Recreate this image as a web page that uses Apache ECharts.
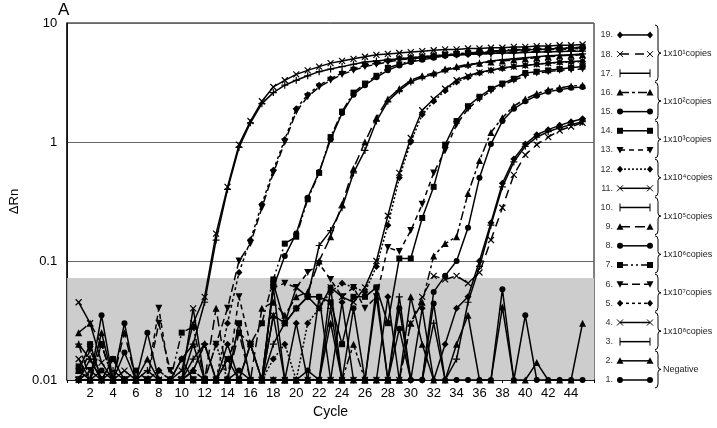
<!DOCTYPE html>
<html><head><meta charset="utf-8">
<script src="https://cdn.jsdelivr.net/npm/echarts@6/dist/echarts.min.js"></script>
<style>html,body{margin:0;padding:0;background:#fff}#c{width:717px;height:428px}</style>
</head><body><div id="c"></div>
<script>
const cycles = [1,2,3,4,5,6,7,8,9,10,11,12,13,14,15,16,17,18,19,20,21,22,23,24,25,26,27,28,29,30,31,32,33,34,35,36,37,38,39,40,41,42,43,44,45];
const xTickLabels = ['2','4','6','8','10','12','14','16','18','20','22','24','26','28','30','32','34','36','38','40','42','44'];
const yTickLabels = ['0.01','0.1','1','10'];
const thresholdTop = 0.072;

// Negative
const s1 = [0.01,0.01,0.035,0.01,0.017,0.01,0.01,0.01,0.01,0.01,0.01,0.01,0.01,0.01,0.01,0.01,0.01,0.06,0.01,0.01,0.01,0.05,0.01,0.01,0.04,0.01,0.01,0.01,0.027,0.01,0.01,0.044,0.01,0.01,0.01,0.01,0.01,0.058,0.01,0.035,0.01,0.01,0.01,0.01,0.01];
const s2 = [0.012,0.01,0.025,0.01,0.01,0.01,0.015,0.01,0.01,0.01,0.02,0.01,0.01,0.01,0.01,0.01,0.01,0.035,0.01,0.01,0.01,0.01,0.03,0.01,0.01,0.01,0.05,0.01,0.01,0.05,0.02,0.01,0.01,0.02,0.035,0.01,0.01,0.041,0.01,0.01,0.014,0.01,0.01,0.01,0.03];
// 1x10^8
const s3 = [0.02,0.015,0.01,0.012,0.01,0.01,0.012,0.01,0.01,0.015,0.02,0.045,0.15,0.4,0.9,1.45,2.1,2.6,3.0,3.3,3.6,3.9,4.1,4.3,4.5,4.7,4.8,4.9,5.0,5.1,5.2,5.3,5.35,5.4,5.45,5.5,5.55,5.6,5.6,5.65,5.7,5.7,5.75,5.8,5.8];
const s4 = [0.045,0.03,0.014,0.01,0.012,0.01,0.01,0.01,0.01,0.012,0.03,0.05,0.17,0.42,0.95,1.5,2.2,2.9,3.3,3.7,4.0,4.3,4.6,4.8,5.0,5.2,5.4,5.5,5.6,5.7,5.8,5.9,6.0,6.0,6.1,6.1,6.2,6.2,6.3,6.3,6.4,6.4,6.5,6.5,6.6];
// 1x10^7
const s5 = [0.01,0.02,0.01,0.015,0.01,0.01,0.01,0.012,0.01,0.01,0.012,0.02,0.01,0.03,0.08,0.15,0.3,0.58,1.05,1.9,2.5,3.0,3.4,3.8,4.1,4.4,4.6,4.8,5.0,5.1,5.2,5.3,5.4,5.5,5.6,5.65,5.7,5.8,5.85,5.9,5.95,6.0,6.0,6.05,6.1];
const s6 = [0.01,0.012,0.01,0.01,0.01,0.01,0.01,0.03,0.012,0.01,0.01,0.01,0.02,0.04,0.1,0.14,0.28,0.55,1.0,1.8,2.4,2.9,3.3,3.7,4.0,4.3,4.5,4.7,4.9,5.0,5.1,5.2,5.3,5.4,5.45,5.5,5.55,5.6,5.65,5.7,5.75,5.8,5.8,5.85,5.9];
// 1x10^6
const s7 = [0.013,0.01,0.02,0.01,0.01,0.012,0.01,0.01,0.01,0.025,0.028,0.01,0.01,0.015,0.025,0.02,0.03,0.07,0.14,0.16,0.33,0.55,1.1,1.8,2.6,3.1,3.6,4.2,4.5,4.8,5.0,5.2,5.4,5.5,5.6,5.7,5.8,5.9,6.0,6.0,6.1,6.1,6.2,6.2,6.3];
const s8 = [0.01,0.01,0.01,0.01,0.03,0.01,0.01,0.01,0.01,0.015,0.01,0.01,0.01,0.01,0.012,0.01,0.01,0.06,0.11,0.17,0.34,0.56,1.05,1.75,2.5,3.0,3.5,4.0,4.4,4.7,4.9,5.1,5.3,5.4,5.5,5.6,5.7,5.8,5.9,5.95,6.0,6.05,6.1,6.15,6.2];
// 1x10^5
const s9 = [0.025,0.03,0.02,0.01,0.025,0.01,0.01,0.01,0.01,0.01,0.012,0.01,0.04,0.01,0.025,0.01,0.04,0.045,0.035,0.05,0.055,0.1,0.16,0.3,0.6,1.0,1.6,2.3,2.8,3.3,3.6,3.8,4.1,4.3,4.5,4.6,4.7,4.8,4.9,5.0,5.1,5.2,5.3,5.35,5.4];
const s10 = [0.01,0.015,0.01,0.01,0.01,0.01,0.01,0.01,0.01,0.01,0.015,0.02,0.01,0.01,0.01,0.02,0.01,0.02,0.03,0.04,0.05,0.135,0.18,0.28,0.55,0.85,1.5,2.2,2.7,3.2,3.5,3.7,4.0,4.2,4.4,4.6,4.8,4.9,5.0,5.1,5.2,5.3,5.35,5.4,5.5];
// 1x10^4
const s11 = [0.015,0.01,0.01,0.01,0.01,0.01,0.01,0.01,0.01,0.01,0.04,0.01,0.01,0.015,0.01,0.02,0.01,0.035,0.03,0.06,0.05,0.04,0.06,0.05,0.045,0.06,0.1,0.24,0.55,1.08,1.85,2.3,2.8,3.3,3.6,3.85,4.0,4.2,4.3,4.4,4.5,4.6,4.7,4.75,4.8];
const s12 = [0.01,0.01,0.02,0.01,0.01,0.01,0.01,0.012,0.01,0.01,0.01,0.01,0.02,0.01,0.01,0.01,0.01,0.015,0.02,0.01,0.03,0.04,0.055,0.065,0.06,0.055,0.09,0.2,0.5,1.0,1.7,2.2,2.7,3.2,3.5,3.8,4.0,4.15,4.3,4.4,4.5,4.6,4.65,4.7,4.75];
// 1x10^3
const s13 = [0.01,0.018,0.01,0.01,0.01,0.01,0.01,0.04,0.01,0.01,0.01,0.01,0.01,0.01,0.05,0.02,0.01,0.06,0.065,0.06,0.08,0.095,0.07,0.05,0.06,0.04,0.05,0.13,0.12,0.18,0.3,0.55,0.85,1.4,1.9,2.3,2.7,3.0,3.3,3.6,3.8,3.9,4.0,4.05,4.1];
const s14 = [0.012,0.02,0.01,0.015,0.01,0.01,0.01,0.01,0.01,0.01,0.01,0.01,0.01,0.01,0.03,0.01,0.01,0.065,0.03,0.04,0.05,0.05,0.045,0.02,0.05,0.05,0.06,0.03,0.105,0.105,0.23,0.42,0.95,1.5,2.0,2.4,2.8,3.1,3.4,3.8,3.9,4.0,4.1,4.2,4.3];
// 1x10^2
const s15 = [0.01,0.01,0.012,0.01,0.01,0.01,0.025,0.01,0.01,0.01,0.01,0.01,0.01,0.01,0.01,0.01,0.01,0.01,0.01,0.01,0.012,0.01,0.06,0.01,0.01,0.01,0.06,0.01,0.04,0.01,0.01,0.055,0.075,0.1,0.19,0.5,0.96,1.5,1.9,2.2,2.45,2.65,2.75,2.85,2.9];
const s16 = [0.02,0.01,0.01,0.01,0.01,0.01,0.01,0.01,0.01,0.01,0.01,0.01,0.01,0.01,0.01,0.01,0.01,0.01,0.01,0.01,0.01,0.01,0.01,0.01,0.02,0.01,0.01,0.01,0.01,0.03,0.045,0.11,0.14,0.16,0.37,0.7,1.2,1.6,2.0,2.3,2.55,2.75,2.85,2.95,3.0];
// 1x10^1
const s17 = [0.01,0.01,0.01,0.01,0.01,0.01,0.01,0.01,0.01,0.01,0.012,0.02,0.01,0.01,0.01,0.01,0.01,0.01,0.01,0.01,0.01,0.01,0.04,0.01,0.01,0.01,0.01,0.01,0.05,0.01,0.01,0.03,0.01,0.015,0.045,0.09,0.2,0.42,0.68,0.92,1.1,1.22,1.32,1.4,1.48];
const s18 = [0.01,0.012,0.01,0.01,0.01,0.01,0.01,0.01,0.01,0.01,0.01,0.01,0.01,0.01,0.01,0.01,0.01,0.01,0.01,0.01,0.01,0.01,0.01,0.01,0.01,0.01,0.01,0.01,0.01,0.03,0.05,0.075,0.07,0.075,0.065,0.08,0.15,0.28,0.53,0.78,0.95,1.1,1.25,1.35,1.45];
const s19 = [0.01,0.01,0.01,0.01,0.01,0.01,0.01,0.01,0.01,0.01,0.01,0.01,0.01,0.02,0.01,0.01,0.01,0.01,0.01,0.03,0.01,0.01,0.01,0.045,0.01,0.01,0.01,0.05,0.01,0.01,0.04,0.01,0.02,0.04,0.05,0.1,0.21,0.45,0.72,0.96,1.15,1.27,1.38,1.48,1.57];

const seriesValues = [s1,s2,s3,s4,s5,s6,s7,s8,s9,s10,s11,s12,s13,s14,s15,s16,s17,s18,s19];
const seriesLabels = ['1.','2.','3.','4.','5.','6.','7.','8.','9.','10.','11.','12.','13.','14.','15.','16.','17.','18.','19.'];
const groupLabels = ['Negative','1x10\u2078copies','1x10\u2077copies','1x10\u2076copies','1x10\u2075copies','1x10\u2074copies','1x10\u00B3copies','1x10\u00B2copies','1x10\u00B9copies'];
const groupRows = [[1,2],[3,4],[5,6],[7,8],[9,10],[11,12],[13,14],[15,16],[17,18,19]];

// styles (not data)
const styles = [
 {m:'circle', d:'solid'}, {m:'triangle', d:'solid'}, {m:'plus', d:'solid'}, {m:'cross', d:'solid'},
 {m:'diamond', d:[3,3]}, {m:'tridown', d:[8,4]}, {m:'rect', d:[8,3,2,3,2,3]}, {m:'circle', d:'solid'},
 {m:'triangle', d:[10,5]}, {m:'plus', d:'solid'}, {m:'cross', d:'solid'}, {m:'diamond', d:[2,2]},
 {m:'tridown', d:[5,4]}, {m:'rect', d:'solid'}, {m:'circle', d:'solid'}, {m:'triangle', d:[9,3,3,3]},
 {m:'plus', d:'solid'}, {m:'cross', d:[9,6]}, {m:'diamond', d:'solid'}
];
const symMap = {
 circle:{s:'circle', size:6, stroke:false},
 triangle:{s:'triangle', size:7, stroke:false},
 rect:{s:'rect', size:6, stroke:false},
 diamond:{s:'diamond', size:7, stroke:false},
 tridown:{s:'path://M0,0L10,0L5,9Z', size:7, stroke:false},
 cross:{s:'path://M0,0L10,10M10,0L0,10', size:6, stroke:true},
 plus:{s:'path://M5,0L5,10M0,5L10,5', size:7, stroke:true}
};

const FONT = 'Liberation Sans, Arial, sans-serif';
const series = [];
series.push({
  type:'line', data:[[0,0.01]], symbol:'none', lineStyle:{opacity:0}, silent:true, z:1,
  markArea:{silent:true, itemStyle:{color:'#cdcdcd'}, data:[[{yAxis:0.01},{yAxis:thresholdTop}]]}
});
seriesValues.forEach((vals,i)=>{
  const st = styles[i], sm = symMap[st.m];
  series.push({
    name: seriesLabels[i], type:'line', z:3,
    data: cycles.map((c,k)=>[c, vals[k]]),
    symbol: sm.s, symbolSize: sm.size, showAllSymbol:true,
    lineStyle:{color:'#000', width:1.5, type: st.d},
    itemStyle:{color:'#000', borderColor:'#000', borderWidth: sm.stroke?1.2:0}
  });
});

// legend graphics
const rowY = i => 380 - (i-1)*19.17;
const gfx = [];
const stroke1 = {stroke:'#000', lineWidth:1};
function marker(type, cx, cy){
  const f = {fill:'#000'};
  switch(type){
    case 'circle': return [{type:'circle', shape:{cx, cy, r:3}, style:f}];
    case 'rect': return [{type:'rect', shape:{x:cx-3, y:cy-3, width:6, height:6}, style:f}];
    case 'triangle': return [{type:'polygon', shape:{points:[[cx,cy-3.5],[cx+3.5,cy+3],[cx-3.5,cy+3]]}, style:f}];
    case 'tridown': return [{type:'polygon', shape:{points:[[cx-3.5,cy-3],[cx+3.5,cy-3],[cx,cy+3.5]]}, style:f}];
    case 'diamond': return [{type:'polygon', shape:{points:[[cx,cy-3.5],[cx+3,cy],[cx,cy+3.5],[cx-3,cy]]}, style:f}];
    case 'cross': return [
      {type:'line', shape:{x1:cx-3,y1:cy-3,x2:cx+3,y2:cy+3}, style:stroke1},
      {type:'line', shape:{x1:cx+3,y1:cy-3,x2:cx-3,y2:cy+3}, style:stroke1}];
    case 'plus': return [{type:'line', shape:{x1:cx,y1:cy-4,x2:cx,y2:cy+4}, style:stroke1}];
  }
  return [];
}
seriesLabels.forEach((lab,i)=>{
  const y = rowY(i+1), st = styles[i];
  gfx.push({type:'text', x:613, y:y, style:{text:lab, font:'9px '+FONT, fill:'#333', align:'right', verticalAlign:'middle'}});
  gfx.push({type:'line', shape:{x1:620, y1:y, x2:650, y2:y}, style:{stroke:'#000', lineWidth:1.5, lineDash: st.d==='solid'?null:st.d}});
  marker(st.m, 620, y).forEach(e=>gfx.push(e));
  marker(st.m, 650, y).forEach(e=>gfx.push(e));
});
groupRows.forEach((rows,g)=>{
  const top = rowY(Math.max(...rows)) - 10, bot = rowY(Math.min(...rows)) + 8, mid = (top+bot)/2, xb = 655;
  gfx.push({type:'bezierCurve', shape:{x1:xb, y1:top, cpx1:xb+3, cpy1:top, x2:xb+3, y2:top+4}, style:{stroke:'#000', lineWidth:1, fill:null}});
  gfx.push({type:'line', shape:{x1:xb+3, y1:top+4, x2:xb+3, y2:mid-3}, style:stroke1});
  gfx.push({type:'bezierCurve', shape:{x1:xb+3, y1:mid-3, cpx1:xb+3, cpy1:mid, x2:xb+6, y2:mid}, style:{stroke:'#000', lineWidth:1, fill:null}});
  gfx.push({type:'bezierCurve', shape:{x1:xb+6, y1:mid, cpx1:xb+3, cpy1:mid, x2:xb+3, y2:mid+3}, style:{stroke:'#000', lineWidth:1, fill:null}});
  gfx.push({type:'line', shape:{x1:xb+3, y1:mid+3, x2:xb+3, y2:bot-4}, style:stroke1});
  gfx.push({type:'bezierCurve', shape:{x1:xb+3, y1:bot-4, cpx1:xb+3, cpy1:bot, x2:xb, y2:bot}, style:{stroke:'#000', lineWidth:1, fill:null}});
  gfx.push({type:'text', x:663, y:mid, style:{text:groupLabels[g], font:'9px '+FONT, fill:'#222', verticalAlign:'middle'}});
});
gfx.push({type:'text', x:58, y:2, style:{text:'A', font:'17px '+FONT, fill:'#000'}});

const chart = echarts.init(document.getElementById('c'));
chart.setOption({
  animation:false,
  backgroundColor:'#fff',
  grid:{left:66, right:123, top:23, bottom:48, show:true, borderColor:'#000', borderWidth:1, backgroundColor:'transparent'},
  xAxis:{
    type:'value', min:0, max:46, interval:2,
    name:'Cycle', nameLocation:'middle', nameGap:25,
    nameTextStyle:{fontSize:14, color:'#000', fontFamily:FONT},
    axisLine:{lineStyle:{color:'#000', width:1.5}},
    axisTick:{show:true, length:3, lineStyle:{color:'#000'}},
    minorTick:{show:true, splitNumber:2, length:3, lineStyle:{color:'#000'}},
    splitLine:{show:false},
    axisLabel:{fontSize:13, color:'#000', fontFamily:FONT, margin:7,
      formatter: v => xTickLabels.indexOf(String(v))>=0 ? String(v) : ''}
  },
  yAxis:{
    type:'log', logBase:10, min:0.01, max:10,
    name:'\u0394Rn', nameLocation:'middle', nameGap:46, nameRotate:90,
    nameTextStyle:{fontSize:13, color:'#000', fontFamily:FONT},
    axisLine:{show:true, lineStyle:{color:'#000', width:1.5}},
    axisTick:{show:false},
    splitLine:{show:true, lineStyle:{color:'#666', width:1}},
    axisLabel:{fontSize:13, color:'#000', fontFamily:FONT, margin:10,
      formatter: v => { const s = String(+v.toPrecision(3)); return yTickLabels.indexOf(s)>=0 ? s : ''; }}
  },
  series: series,
  graphic:{elements:gfx}
});
</script></body></html>
